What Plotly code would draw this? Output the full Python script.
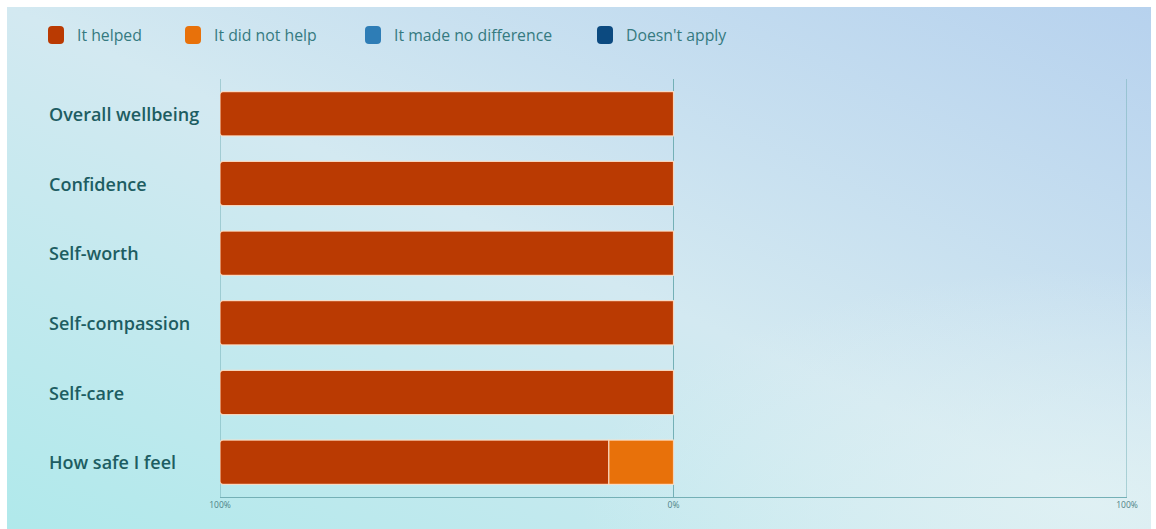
import base64
import plotly.graph_objects as go

categories = ["Overall wellbeing", "Confidence", "Self-worth", "Self-compassion", "Self-care", "How safe I feel"]
helped = [100, 100, 100, 100, 100, 85.7]
did_not_help = [0, 0, 0, 0, 0, 14.3]
no_difference = [0, 0, 0, 0, 0, 0]
doesnt_apply = [0, 0, 0, 0, 0, 0]
series_names = ["It helped", "It did not help", "It made no difference", "Doesn't apply"]
series_colors = ["#BA3A02", "#E8710A", "#2E7DB6", "#0C4A80"]
tick_vals = [-100, 0, 100]
tick_text = ["100%", "0%", "100%"]

# plot area in pixels
L, R, T, B = 220, 1127, 79, 497
W, H = R - L, B - T

def px_x(p):
    return (p - L) / W

def px_y(p):
    return (B - p) / H

fig = go.Figure()

# negative side stacks: closest to zero first
for name, vals, col in [(series_names[1], did_not_help, series_colors[1]),
                        (series_names[0], helped, series_colors[0])]:
    fig.add_trace(go.Bar(
        y=categories, x=[-v for v in vals], orientation="h", name=name,
        marker=dict(color=col, line=dict(color="rgba(255,225,200,0.85)", width=1.2)),
        showlegend=False, hoverinfo="skip"))
for name, vals, col in [(series_names[2], no_difference, series_colors[2]),
                        (series_names[3], doesnt_apply, series_colors[3])]:
    fig.add_trace(go.Bar(
        y=categories, x=vals, orientation="h", name=name,
        marker=dict(color=col, line=dict(width=0)),
        showlegend=False, hoverinfo="skip"))

# background gradient
svg = """<svg xmlns='http://www.w3.org/2000/svg' width='1144' height='522' preserveAspectRatio='none'>
<defs>
<linearGradient id='g' x1='0' y1='1' x2='1' y2='0'>
<stop offset='0' stop-color='#b0e9eb'/>
<stop offset='0.5' stop-color='#d3e9f1'/>
<stop offset='1' stop-color='#b7d2ee'/>
</linearGradient>
<radialGradient id='r' cx='0.95' cy='0.95' r='0.45'>
<stop offset='0' stop-color='#e2f2f4' stop-opacity='0.8'/>
<stop offset='1' stop-color='#e2f2f4' stop-opacity='0'/>
</radialGradient>
</defs>
<rect width='1144' height='522' fill='url(#g)'/>
<rect width='1144' height='522' fill='url(#r)'/>
</svg>"""
src = "data:image/svg+xml;base64," + base64.b64encode(svg.encode()).decode()
fig.add_layout_image(dict(source=src, xref="paper", yref="paper",
                          x=px_x(7), y=px_y(7), sizex=(1151 - 7) / W, sizey=(529 - 7) / H,
                          xanchor="left", yanchor="top", sizing="stretch", layer="below"))

# y labels, left aligned
annotations = []
for c in categories:
    annotations.append(dict(x=px_x(47), y=c, xref="paper", yref="y", text=c, showarrow=False,
                            xanchor="left", yanchor="middle",
                            font=dict(family="Open Sans", size=18, color="#1d5d62", weight=600)))

shapes = []
# vertical grid lines at tick values
for v in tick_vals:
    shapes.append(dict(type="line", xref="x", yref="paper", x0=v, x1=v, y0=0, y1=1,
                       line=dict(color="#74b0b6", width=1), layer="below"))

# manual legend
leg_marker_x = [56, 193, 373, 605]
leg_y = 35
for i, name in enumerate(series_names):
    shapes.append(dict(type="path", xref="paper", yref="paper",
                       xsizemode="pixel", ysizemode="pixel",
                       xanchor=px_x(leg_marker_x[i]), yanchor=px_y(leg_y),
                       path="M -4,-9 L 4,-9 Q 8,-9 8,-5 L 8,5 Q 8,9 4,9 L -4,9 Q -8,9 -8,5 L -8,-5 Q -8,-9 -4,-9 Z",
                       fillcolor=series_colors[i], line=dict(width=0)))
    annotations.append(dict(x=px_x(leg_marker_x[i] + 19), y=px_y(leg_y), xref="paper", yref="paper",
                            text=name, showarrow=False, xanchor="left", yanchor="middle",
                            font=dict(family="Open Sans", size=15.8, color="#357a80")))

fig.update_layout(
    width=1156, height=529,
    margin=dict(l=L, r=1156 - R, t=T, b=529 - B),
    paper_bgcolor="white", plot_bgcolor="rgba(0,0,0,0)",
    barmode="relative", bargap=0.365, barcornerradius=3,
    showlegend=False,
    annotations=annotations, shapes=shapes,
    xaxis=dict(range=[-100, 100], tickvals=tick_vals, ticktext=tick_text,
               showgrid=False, zeroline=False,
               showline=True, linecolor="#74b0b6", linewidth=1,
               tickfont=dict(family="Open Sans", size=8.5, color="#4d8286"), ticks="",
               fixedrange=True),
    yaxis=dict(categoryorder="array", categoryarray=categories, autorange="reversed",
               showticklabels=False, showgrid=False, zeroline=False, fixedrange=True),
)

fig.write_html("out.html")
